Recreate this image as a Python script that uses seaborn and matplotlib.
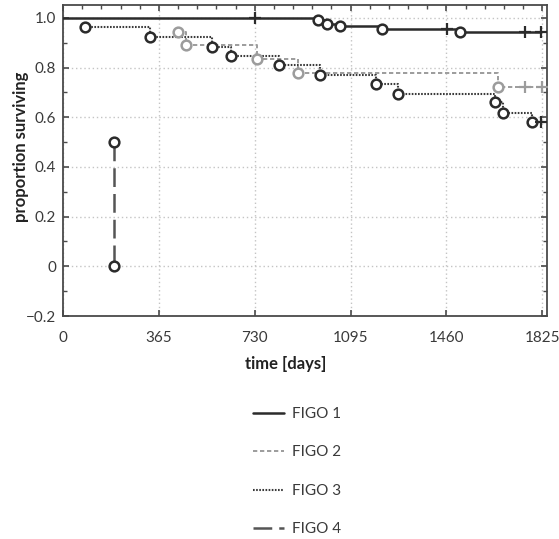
import matplotlib
matplotlib.use("Agg")
import matplotlib.pyplot as plt
from matplotlib.lines import Line2D
from matplotlib.ticker import MultipleLocator
import seaborn as sns
import pandas as pd

# Kaplan-Meier survival by FIGO stage (days since diagnosis)
groups = ["FIGO 1", "FIGO 2", "FIGO 3", "FIGO 4"]

figo1_start = (0, 1.0)
figo1_event_days = [970, 1005, 1054, 1214, 1511]
figo1_event_surv = [0.990, 0.977, 0.967, 0.957, 0.945]
figo1_censor_days = [730, 1462, 1759, 1822]

figo2_event_days = [438, 470, 739, 895, 1657]
figo2_event_surv = [0.944, 0.889, 0.833, 0.778, 0.722]
figo2_censor_days = [1760, 1824]

figo3_event_days = [83, 330, 569, 638, 822, 978, 1191, 1276, 1645, 1674, 1787]
figo3_event_surv = [0.965, 0.925, 0.884, 0.847, 0.811, 0.770, 0.733, 0.694,
                    0.660, 0.616, 0.582]
figo3_censor_days = [1822]

figo4_event_days = [193, 193]
figo4_event_surv = [0.5, 0.0]
figo4_censor_days = []

x_ticks = [0, 365, 730, 1095, 1460, 1825]
y_ticks = [-0.2, 0, 0.2, 0.4, 0.6, 0.8, 1.0]
y_tick_labels = ["\u22120.2", "0", "0.2", "0.4", "0.6", "0.8", "1.0"]

sns.set_theme(style="white")
plt.rcParams["font.family"] = ["Lato", "DejaVu Sans"]

styles = {
    "FIGO 1": dict(color="#2b2b2b", lw=1.8, ls="-", mcol="#2b2b2b"),
    "FIGO 2": dict(color="#9c9c9c", lw=1.4, ls=(0, (2.2, 1.4)), mcol="#9c9c9c"),
    "FIGO 3": dict(color="#3a3a3a", lw=1.5, ls=(0, (0.8, 0.7)), mcol="#2b2b2b"),
    "FIGO 4": dict(color="#555555", lw=1.8, ls=(0, (7.5, 2.8)), mcol="#2b2b2b"),
}

curves = {
    "FIGO 1": (figo1_event_days, figo1_event_surv, figo1_censor_days, figo1_start),
    "FIGO 2": (figo2_event_days, figo2_event_surv, figo2_censor_days, None),
    "FIGO 3": (figo3_event_days, figo3_event_surv, figo3_censor_days, None),
    "FIGO 4": (figo4_event_days, figo4_event_surv, figo4_censor_days, None),
}

fig = plt.figure(figsize=(5.59, 5.39), dpi=100)
ax = fig.add_axes([63 / 559, 1 - 316 / 539, (546.7 - 63) / 559, (316 - 5) / 539])

for order, name in enumerate(["FIGO 4", "FIGO 3", "FIGO 2", "FIGO 1"]):
    days, surv, cens, start = curves[name]
    st = styles[name]
    xs, ys = list(days), list(surv)
    if start is not None:
        xs = [start[0]] + xs
        ys = [start[1]] + ys
    if cens:
        xs.append(max(cens))
        ys.append(ys[-1])
    step = pd.DataFrame({"day": xs, "surv": ys})
    sns.lineplot(data=step, x="day", y="surv", drawstyle="steps-post",
                 estimator=None, sort=False, color=st["color"], lw=st["lw"],
                 linestyle=st["ls"], ax=ax, zorder=3 + order)
    ev = pd.DataFrame({"day": days, "surv": surv})
    ax.plot(ev["day"], ev["surv"], ls="none", marker="o", ms=7,
            mfc="white", mec=st["mcol"], mew=1.8, zorder=10)
    if cens:
        # survival level at each censoring time
        levels = []
        for c in cens:
            lv = start[1] if start is not None else 1.0
            for d, s in zip(days, surv):
                if d <= c:
                    lv = s
            levels.append(lv)
        ax.plot(cens, levels, ls="none", marker="+", ms=9, mew=1.6,
                color=st["mcol"] if name != "FIGO 2" else "#9c9c9c", zorder=10)

ax.set_xlim(0, 1842)
ax.set_ylim(-0.2, 1.052)
ax.set_xticks(x_ticks)
ax.set_xticklabels([str(t) for t in x_ticks])
ax.set_yticks(y_ticks)
ax.set_yticklabels(y_tick_labels)
ax.xaxis.set_minor_locator(MultipleLocator(73))
ax.yaxis.set_minor_locator(MultipleLocator(0.1))

ax.grid(True, which="major", color="#c4c4c4", lw=1.0, ls=(0, (1, 2)))
for side in ["left", "right", "top", "bottom"]:
    ax.spines[side].set_visible(True)
    ax.spines[side].set_color("#4a4a4a")
    ax.spines[side].set_linewidth(1.3)

ax.tick_params(which="both", direction="in", color="#4a4a4a",
               top=True, right=True, bottom=True, left=True,
               labelsize=11, labelcolor="#3a3a3a", pad=5)
ax.tick_params(axis="x", which="major", pad=11)
ax.tick_params(which="major", length=4, width=1.2)
ax.tick_params(which="minor", length=3, width=1.0, bottom=False)

ax.set_xlabel("time [days]", fontsize=12, fontweight="bold", color="#222222")
ax.set_ylabel("proportion surviving", fontsize=12, fontweight="bold",
              color="#222222")
ax.xaxis.set_label_coords(0.461, -0.128)
ax.yaxis.set_label_coords(-0.07, 0.543)

handles = []
for name in groups:
    st = styles[name]
    handles.append(Line2D([], [], color=st["color"], lw=st["lw"], ls=st["ls"]))
fig.legend(handles, groups, loc="upper left",
           bbox_to_anchor=(253 / 559, 1 - 407 / 539),
           bbox_transform=fig.transFigure, frameon=False,
           prop={"family": ["Lato", "DejaVu Sans"], "size": 11},
           handlelength=2.0, handletextpad=0.55, labelspacing=1.6,
           borderpad=0, borderaxespad=0, labelcolor="#3a3a3a")

fig.savefig("out.png", dpi=100)
